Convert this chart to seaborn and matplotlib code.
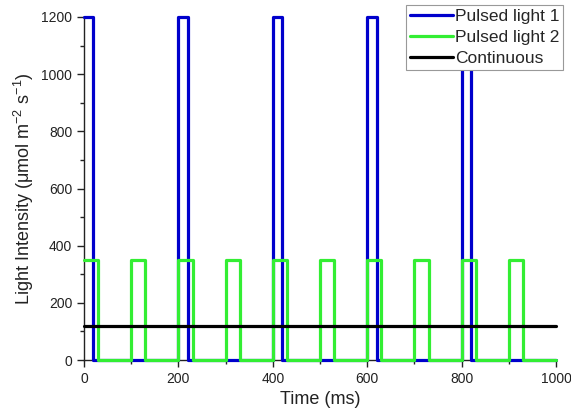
import matplotlib
matplotlib.use("Agg")
import matplotlib.pyplot as plt
import seaborn as sns
import numpy as np
from matplotlib.ticker import MultipleLocator

sns.set_style("ticks")
plt.rcParams['font.family'] = ['Liberation Sans', 'DejaVu Sans']
plt.rcParams['mathtext.default'] = 'regular'

# Data (step change times in ms and intensity after each change)
pulsed1_time = [0, 20, 200, 220, 400, 420, 600, 620, 800, 820, 1000]
pulsed1_value = [1200, 0, 1200, 0, 1200, 0, 1200, 0, 1200, 0, 0]

pulsed2_time = [0, 30, 100, 130, 200, 230, 300, 330, 400, 430, 500, 530,
                600, 630, 700, 730, 800, 830, 900, 930, 1000]
pulsed2_value = [350, 0, 350, 0, 350, 0, 350, 0, 350, 0, 350, 0,
                 350, 0, 350, 0, 350, 0, 350, 0, 0]

continuous_time = [0, 1000]
continuous_value = [120, 120]

labels = ["Pulsed light 1", "Pulsed light 2", "Continuous"]
colors = ["#0000CC", "#33EE33", "#000000"]

fig = plt.figure(figsize=(5.71, 4.17), dpi=100)
ax = fig.add_axes([84/571, 57/417, (556-84)/571, (360-17)/417])

sns.lineplot(x=pulsed1_time, y=pulsed1_value, ax=ax, color=colors[0], lw=2.3,
             drawstyle='steps-post', estimator=None, sort=False, label=labels[0],
             clip_on=False, zorder=3)
sns.lineplot(x=pulsed2_time, y=pulsed2_value, ax=ax, color=colors[1], lw=2.3,
             drawstyle='steps-post', estimator=None, sort=False, label=labels[1],
             clip_on=False, zorder=4)
sns.lineplot(x=continuous_time, y=continuous_value, ax=ax, color=colors[2], lw=2.3,
             estimator=None, sort=False, label=labels[2], clip_on=False, zorder=5)

ax.set_xlim(0, 1000)
ax.set_ylim(0, 1200)
ax.xaxis.set_major_locator(MultipleLocator(200))
ax.xaxis.set_minor_locator(MultipleLocator(100))
ax.yaxis.set_major_locator(MultipleLocator(200))
ax.yaxis.set_minor_locator(MultipleLocator(100))
ax.tick_params(which='major', direction='out', length=5, width=1, labelsize=10, colors='#222222')
ax.tick_params(which='minor', direction='out', length=3, width=1, colors='#222222')
sns.despine(ax=ax)
for s in ['left', 'bottom']:
    ax.spines[s].set_color('#222222')
    ax.spines[s].set_linewidth(1)

ax.set_xlabel("Time (ms)", fontsize=13, color='#222222')
ax.set_ylabel("Light Intensity (μmol m$^{-2}$ s$^{-1}$)", fontsize=13, color='#222222')

leg = ax.legend(loc='upper right', bbox_to_anchor=(563/571, 1-5/417),
                bbox_transform=fig.transFigure, borderaxespad=0, fontsize=12.5,
                handlelength=2.5, handletextpad=0.1, labelspacing=0.35,
                borderpad=0.2, fancybox=False, framealpha=1, edgecolor='#999999')
leg.get_frame().set_linewidth(0.8)
for line in leg.get_lines():
    line.set_linewidth(2.3)

fig.savefig("out.png", dpi=100)
